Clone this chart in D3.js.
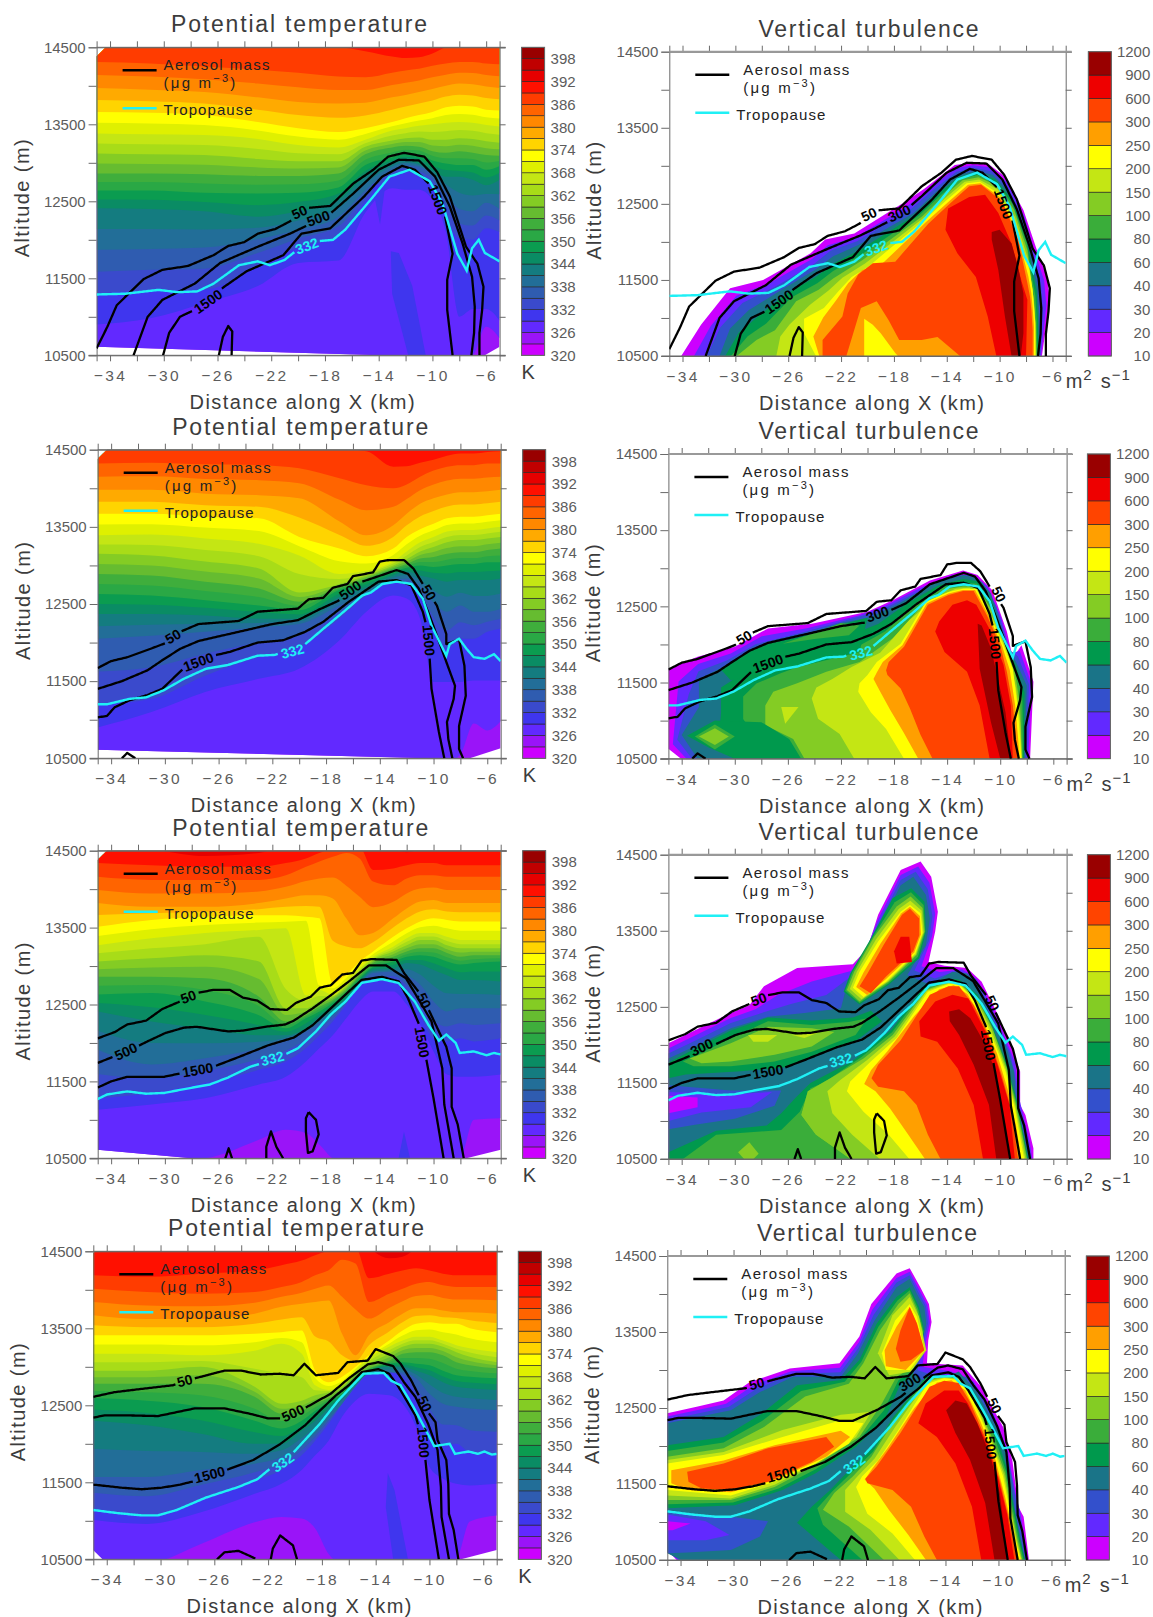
<!DOCTYPE html>
<html><head><meta charset="utf-8">
<script src="https://d3js.org/d3.v7.min.js"></script>
<style>html,body{margin:0;padding:0;background:#fff}svg{display:block}text{font-family:"Liberation Sans",Arial,sans-serif}</style>
</head><body><svg id="c" width="1153" height="1617"></svg>
<script>
// ---------- shared tick data ----------
const xTicks=[-34,-32,-30,-28,-26,-24,-22,-20,-18,-16,-14,-12,-10,-8,-6];
const xLabelled=[-34,-30,-26,-22,-18,-14,-10,-6];
const zTicks=[10500,11000,11500,12000,12500,13000,13500,14000,14500];
const zLabelled=[10500,11500,12500,13500,14500];
const thetaLabels=[320,326,332,338,344,350,356,362,368,374,380,386,392,398];
const turbLabels=[10,20,30,40,60,80,100,150,200,250,300,600,900,1200];
const thetaColors=["#cc00ff","#9a14f8","#6229ff","#3f36ee","#3a4acc","#2f5cb0","#226e98","#147c80","#0a8c64","#0b9c50","#2aa845","#3fae3c","#66bc30","#84cc24","#a8dc18","#c4e614","#dff000","#ffff00","#ffd400","#ffaa00","#ff8800","#ff6400","#ff3c00","#ff1000","#e60000","#c00000","#990000"];
const turbColors=["#cc00ff","#6229ff","#3350cc","#1a7488","#00994d","#3aad3a","#84cc24","#c4e614","#ffff00","#ff9f00","#ff4400","#ee0000","#990000"];

// ---------- potential temperature: altitude (m) of isentropes at each column (km) ----------
const cols16=[-35,-31,-27,-23,-20,-17,-15,-13,-12,-11,-10,-9,-8,-7,-6,-5];
const cols19=[-35,-31,-27,-23,-21,-19.5,-18.5,-17.5,-16.5,-15.5,-14.5,-13,-12,-11,-10,-9,-8,-7,-5];
const theta1={
326:[10450,10450,10450,10450,10450,10450,10450,10450,10450,10450,10450,10450,10450,10500,10870,10720],
329:[10900,10980,11180,11400,11700,11730,12350,12670,12650,12650,12520,12100,11000,11100,11100,10950],
332:[11300,11340,11350,11650,11900,12050,12500,12840,12890,12830,12720,12300,12020,12000,12150,12100],
338:[11870,11880,11900,12010,12130,12300,12640,12920,12970,12950,12840,12620,12400,12370,12480,12400],
344:[12410,12400,12370,12300,12370,12520,12820,12990,13030,12990,12900,12820,12820,12780,12710,12780],
350:[12640,12640,12610,12600,12610,12680,12970,13070,13120,13110,13030,12990,12970,12970,12910,12960],
356:[12860,12860,12850,12830,12830,12860,13110,13200,13220,13210,13150,13130,13150,13130,13100,13090],
362:[13120,13110,13100,13050,13020,13020,13210,13290,13320,13330,13300,13300,13320,13310,13280,13260],
368:[13380,13370,13360,13310,13230,13200,13300,13420,13450,13480,13500,13520,13530,13520,13490,13470],
374:[13660,13650,13620,13530,13450,13400,13450,13530,13580,13620,13660,13720,13740,13730,13690,13680],
380:[13970,13950,13920,13850,13790,13770,13780,13850,13880,13920,13960,14000,14030,14020,13990,13970],
386:[14310,14290,14250,14210,14170,14120,14110,14170,14200,14220,14260,14290,14310,14310,14290,14280],
392:[14790,14800,14800,14820,14850,14880,14790,14590,14520,14520,14580,14710,14750,14780,14780,14780]};
const theta2={
326:[10450,10450,10450,10450,10450,10450,10450,10450,10450,10450,10450,10450,10550,10950,10860,10980],
329:[10900,11100,11360,11530,11660,12030,12400,12610,12570,12310,11490,11490,11490,11510,11510,11510],
332:[11200,11270,11570,11810,11940,12310,12610,12780,12760,12610,12140,11920,12050,12050,12140,12180],
338:[12050,12090,12140,12200,12240,12480,12630,12810,12830,12740,12520,12400,12480,12400,12400,12440],
344:[12370,12370,12350,12310,12310,12590,12720,12870,12920,12870,12830,12790,12810,12810,12810,12830],
350:[12630,12610,12550,12480,12420,12680,12790,12920,12970,13000,12980,13000,13020,13020,13040,13040],
356:[12890,12870,12790,12700,12530,12720,12830,12960,13020,13090,13110,13150,13170,13170,13200,13220],
362:[13150,13130,13050,12960,12650,12760,12870,13000,13080,13180,13240,13300,13330,13330,13350,13370],
368:[13390,13400,13350,13280,13130,12890,12930,13050,13180,13300,13370,13440,13460,13460,13480,13500],
374:[13670,13670,13630,13610,13370,13220,13120,13220,13370,13470,13540,13610,13630,13630,13650,13670],
380:[13980,13980,13930,13910,13870,13570,13390,13520,13670,13800,13870,13920,13950,13950,13960,13980],
386:[14320,14330,14310,14300,14260,14130,14040,14000,14050,14150,14230,14280,14300,14300,14320,14320],
392:[14680,14690,14680,14700,14740,14890,14920,14560,14520,14510,14510,14560,14600,14600,14620,14640]};
const theta3={
326:[10450,10450,10500,10740,10870,10830,10680,10500,10450,10450,10450,10450,10450,10450,10450,10450,10500,11000,11020],
329:[11130,11200,11280,11460,11560,11760,11930,12100,12320,12540,12670,12670,12500,12240,11890,11590,11560,11560,11590],
332:[11280,11350,11480,11650,11760,11930,12100,12280,12500,12760,12810,12810,12620,12360,12060,12020,12060,12020,12060],
338:[11910,11720,11800,11930,12040,12150,12260,12360,12540,12760,12910,12930,12880,12760,12540,12410,12450,12450,12450],
344:[12410,12280,12190,12100,12100,12190,12340,12450,12580,12800,12950,12970,13040,13020,12950,12880,12820,12820,12800],
350:[12630,12650,12540,12360,12190,12320,12410,12520,12650,12840,12990,13060,13120,13140,13120,13060,13020,13040,13060],
356:[12860,12860,12840,12600,12280,12360,12470,12560,12690,12880,13040,13120,13190,13230,13230,13170,13120,13140,13140],
362:[13060,13100,13140,13060,12450,12450,12540,12600,12730,12930,13080,13190,13270,13340,13340,13270,13230,13230,13230],
365:[13165,13230,13285,13380,12700,12550,12610,12610,12765,12950,13100,13220,13315,13385,13385,13325,13285,13285,13285],
368:[13270,13360,13430,13470,13490,12620,12690,12630,12800,12970,13120,13250,13360,13430,13430,13380,13340,13340,13340],
371:[13390,13480,13535,13565,13575,13590,12750,12710,12845,13015,13155,13315,13425,13505,13525,13490,13460,13460,13460],
374:[13510,13600,13640,13660,13660,13640,13620,12780,12890,13060,13190,13380,13490,13580,13620,13600,13580,13580,13580],
380:[13820,13770,13770,13820,13880,13920,13920,13880,13620,13400,13430,13620,13750,13840,13860,13820,13820,13820,13820],
386:[14160,14120,14120,14120,14180,14290,14360,14420,14470,14400,14100,14050,14140,14180,14180,14160,14160,14160,14160],
389:[14340,14310,14290,14290,14340,14400,14470,14530,14570,14550,14250,14270,14310,14340,14340,14310,14310,14310,14310],
392:[14600,14520,14430,14470,14600,14700,14800,14800,14800,14800,14700,14530,14480,14520,14600,14600,14600,14600,14600]};
const theta4={
326:[10450,10450,10700,10980,11050,11030,10900,10570,10450,10450,10450,10450,10450,10450,10450,10450,10500,10990,11070],
329:[11010,10960,11110,11350,11480,11660,11850,12040,12350,12560,12650,12630,12520,12220,11700,11550,11480,11460,11480],
332:[11160,11070,11270,11520,11660,11850,12040,12260,12520,12780,12920,12930,12870,12610,12260,11980,12000,11890,11870],
338:[11570,11570,11660,11740,11830,11980,12130,12330,12520,12740,12910,12930,12930,12850,12650,12520,12480,12460,12440],
344:[12300,12240,12130,12000,12000,12170,12300,12460,12610,12780,12930,13000,13000,12950,12890,12800,12740,12720,12700],
350:[12590,12560,12480,12300,12200,12300,12430,12540,12650,12820,12950,13040,13060,13040,13020,12950,12890,12870,12850],
356:[12780,12780,12780,12610,12390,12430,12520,12590,12700,12870,12980,13080,13170,13190,13190,13150,13060,13020,12980],
362:[12950,12950,13000,12740,12520,12560,12630,12670,12740,12910,13040,13170,13260,13300,13300,13260,13190,13130,13060],
368:[13170,13170,13150,13210,13300,13170,12760,12700,12760,12950,13110,13260,13340,13390,13390,13340,13280,13240,13190],
374:[13410,13410,13410,13430,13450,13470,12950,12800,12870,13000,13150,13340,13470,13560,13580,13560,13560,13500,13450],
380:[13670,13620,13620,13690,13780,13820,13840,13860,13430,13150,13410,13580,13690,13760,13760,13730,13710,13710,13690],
386:[14015,13972,13950,13972,14037,14102,14188,14253,14390,14340,13842,13950,14015,14080,14102,14058,14037,14037,14037],
389:[14190,14170,14210,14250,14320,14380,14450,14510,14600,14560,14150,14210,14250,14280,14250,14210,14190,14190,14190],
392:[14700,14700,14700,14700,14700,14700,14700,14800,14800,14800,14560,14410,14430,14540,14700,14700,14700,14700,14700]};
// data-domain outlines of the interpolated slice (km, m)
const outline1=[-35,14380,-34.3,14500,-5,14500,-5,10610,-6.1,10500,-13.7,10500,-35,10610];
const outline2=[-35,14380,-34.3,14500,-5,14500,-5,10630,-7.3,10500,-10.3,10500,-35,10610];
const outline3=[-35,14380,-34.3,14500,-5,14500,-5,10610,-7.55,10500,-28,10500,-35,10610];
const outline4=[-35,14470,-34.8,14500,-5,14500,-5,10620,-7.65,10500,-34.3,10500,-35,10620];
// closed 329-332 K tongues under the tropopause
const tongues1=[[-13.1,11850,-12.5,11830,-11.5,11400,-10.5,10500,-11.8,10500,-13,11300],[-14.5,12720,-13.9,12200,-13.5,12720]];
const tongues2=[];
const tongues3=[[-12.2,10850,-12.6,10500,-11.75,10500]];
const tongues4=[[-13.1,11620,-12.6,11400,-11.6,10500,-12.7,10500,-13.25,11180]];

// ---------- aerosol contours (50, 500, 1500, then closed blobs) and tropopause (km, m) ----------
const aero1=[
[-35,10590,-34.2,10870,-33.5,11150,-31.5,11490,-30.1,11610,-28.2,11660,-26.3,11800,-25.2,11920,-24,11970,-23,12080,-21.7,12140,-20.6,12240,-19.5,12410,-17.6,12440,-15.9,12730,-14.4,12910,-13.3,13080,-12.1,13130,-10.6,13080,-9.65,12880,-8.7,12560,-7.5,11910,-6.65,11690,-6.2,11390,-6.3,11090,-6.5,10790,-6.5,10500],
[-32.25,10500,-31.2,11000,-30.1,11220,-27.7,11430,-25.8,11700,-23,11910,-20.6,12080,-19.4,12180,-17.6,12340,-15.9,12600,-14,12910,-12.5,13040,-11,13030,-9.8,12820,-8.7,12430,-7.75,11950,-7.05,11520,-6.85,11130,-6.9,10790,-7.1,10500],
[-30.05,10500,-29.6,10790,-28.8,11000,-27.7,11090,-25.5,11390,-23.85,11590,-21.1,11800,-19.75,12080,-17.6,12150,-15.1,12560,-13.75,12820,-12.25,12960,-11.3,12910,-10.05,12690,-9.1,12340,-8.5,11820,-8.9,11480,-8.9,11090,-8.5,10500],
[-25.9,10500,-25.6,10740,-25.2,10880,-24.9,10810,-24.95,10500]];
const trop1=[-35,11290,-32.85,11300,-30.4,11350,-29,11320,-27.5,11330,-26.3,11430,-24.4,11670,-23,11720,-22.1,11670,-21,11740,-20.2,11850,-18.6,11980,-17.4,12000,-16.5,12130,-14.6,12520,-13.2,12820,-11.7,12910,-10.2,12760,-9.25,12470,-8.15,11820,-7.45,11600,-7.05,11890,-6.55,12000,-6.1,11830,-5,11720];
const aero2=[
[-35,11670,-34,11760,-32.8,11810,-30.75,11940,-30,11990,-28.85,12140,-27.5,12240,-24.5,12280,-23.1,12400,-20.1,12440,-19.3,12560,-18.2,12580,-17.5,12710,-16.4,12760,-16,12860,-14.5,12910,-14,13050,-13.3,13070,-12.2,13070,-11.5,12960,-10.8,12760,-9.75,12480,-9.05,12110,-9.05,11980,-8.1,12040,-7.7,11700,-7.6,11310,-8.1,10920,-8.1,10620,-7.8,10500],
[-35,11400,-33.2,11500,-31.3,11640,-30.2,11770,-28.85,11920,-27.5,12020,-24.5,12140,-22,12240,-20.1,12290,-18.5,12430,-17.1,12540,-15.3,12790,-14.1,12860,-12.75,12940,-11.9,12890,-11.1,12700,-10.3,12350,-9.75,12090,-9.05,11750,-8.4,11440,-8.5,11270,-9,10970,-8.9,10750,-8.6,10500],
[-35,11030,-34.3,11050,-33.75,11160,-32.65,11250,-31.3,11320,-30.2,11400,-28.7,11650,-26.4,11830,-25.15,11880,-23.1,12000,-21.2,12030,-19.55,12140,-18.2,12270,-16.3,12530,-14.1,12790,-12.75,12810,-11.65,12740,-10.8,12400,-10.55,12230,-10.3,11830,-10.15,11400,-9.6,10840,-9.2,10500],
[-33.2,10500,-32.8,10570,-32.2,10500]];
const trop2=[-35,11200,-34.3,11200,-32.65,11270,-31.4,11290,-30.1,11380,-28.6,11530,-26.95,11660,-25.3,11710,-23.1,11830,-21.8,11840,-19.55,11980,-18.2,12180,-16.55,12420,-15.3,12610,-14.65,12650,-13.8,12760,-12.75,12790,-11.65,12760,-10.8,12570,-10.15,12220,-9.05,11830,-8.8,11980,-8.1,12050,-7.55,11920,-7,11810,-6.2,11790,-5.5,11850,-5,11760];
const aero3=[
[-35,12060,-33.75,12140,-32.8,12240,-31.4,12290,-30.2,12440,-29,12530,-27.6,12650,-26.4,12690,-25.15,12690,-24.2,12590,-23.1,12550,-22.15,12440,-20.9,12430,-20.25,12520,-19.15,12600,-18.45,12720,-17.65,12750,-16.8,12890,-16,12910,-15.35,13070,-14.65,13090,-12.75,13080,-12.2,12910,-11.4,12730,-11,12640,-10.3,12410,-9.6,12150,-9.05,11950,-8.65,11670,-8.65,11170,-8.2,10940,-7.75,10500],
[-35,11740,-34,11810,-32.1,11950,-31.3,12020,-29.95,12130,-28.55,12200,-27.6,12210,-25.3,12150,-24.2,12160,-22.55,12210,-21.05,12240,-20.4,12290,-19,12450,-17.65,12620,-16.3,12800,-14.8,13010,-13.55,13010,-12.05,12840,-10.85,12490,-10.15,12280,-9.35,11670,-9.2,11200,-8.5,10500],
[-35,11420,-34,11500,-32.8,11560,-30.05,11560,-28.7,11610,-26.4,11690,-24.75,11800,-22.3,11970,-20.4,12070,-19,12230,-17.65,12450,-16.3,12670,-15.35,12820,-13.85,12860,-12.6,12800,-11.9,12580,-11.1,12250,-10.55,11800,-10,11280,-9.25,10500],
[-25.5,10500,-25.25,10630,-25,10500],
[-22.45,10500,-22.45,10650,-22.1,10850,-21.7,10650,-21.2,10500],
[-19.3,11100,-18.75,11000,-18.55,10810,-19,10590,-19.35,10570,-19.5,10850,-19.5,11020,-19.3,11100]];
const trop3=[-35,11270,-34.3,11330,-32.8,11370,-31.4,11340,-30.05,11350,-28.55,11400,-26.65,11460,-25.3,11550,-23.65,11690,-22.9,11730,-21.05,11850,-20.1,11930,-18.75,12150,-17.65,12370,-16.55,12540,-15.35,12780,-13.85,12830,-12.6,12780,-11.4,12540,-10.4,12240,-9.6,12030,-9.05,12110,-8.35,12000,-8.05,11870,-7,11890,-6.05,11840,-5.5,11870,-5,11850];
const aero4=[
[-35,12610,-33.45,12670,-31.55,12710,-29.1,12760,-27.45,12850,-25.25,12950,-24,12950,-22.55,12900,-21.15,12910,-20.1,12890,-19.3,13040,-18.45,12890,-16.8,12920,-16.1,13060,-14.6,13080,-14,13230,-12.7,13140,-12.15,13040,-11.35,12820,-10.8,12630,-10.1,12410,-9.55,12280,-9.4,12050,-8.75,11790,-8.6,11480,-8.55,11090,-8.2,10880,-7.85,10500],
[-35,12340,-34.15,12370,-32.65,12370,-30.2,12360,-27.45,12460,-25.25,12460,-23.35,12390,-22,12330,-21,12330,-19.1,12480,-17.35,12650,-16,12850,-14.6,13030,-13.8,13060,-12.7,13010,-11.9,12800,-11.05,12610,-10.1,12260,-9.4,11920,-9.15,11440,-9.1,11050,-8.55,10500],
[-35,11470,-32.9,11430,-31.4,11410,-29.9,11430,-28.55,11470,-27.6,11510,-25.25,11650,-23.1,11790,-21.15,11990,-19.25,12240,-18.15,12430,-16.95,12630,-16,12760,-15.05,12930,-13.8,12970,-13,12910,-12.3,12740,-11.05,12370,-10.8,12220,-10.3,11790,-10,11270,-9.3,10500],
[-25.8,10500,-25.25,10590,-24.2,10610,-22.95,10510],
[-21.8,10500,-21.65,10640,-21.1,10810,-20.15,10680,-19.85,10500]];
const trop4=[-35,11140,-33.2,11100,-31.4,11070,-30.2,11070,-28.8,11140,-26.65,11300,-24.2,11440,-22.8,11540,-21.9,11670,-20.1,11890,-18.15,12260,-16.8,12560,-14.9,12910,-13.4,12920,-12.85,12820,-12.15,12760,-11.2,12480,-10.4,12220,-9.65,11970,-8.5,12000,-8.1,11870,-7.1,11900,-6.4,11870,-5.9,11900,-5.35,11860,-5,11870];
// contour labels: text, km, m, angle
const labelsTheta1=[["50",-19.9,12360,-25],["500",-18.5,12280,-20],["1500",-26.7,11200,-35],["1500",-9.6,12520,70]];
const labelsTheta2=[["50",-29.4,12080,-30],["500",-16.2,12680,-35],["1500",-27.5,11750,-20],["1500",-10.35,12030,85],["50",-10.35,12650,60]];
const labelsTheta3=[["50",-28.25,12600,-20],["500",-32.9,11890,-25],["1500",-27.55,11650,-10],["1500",-10.85,12010,80],["50",-10.7,12550,65]];
const labelsTheta4=[["50",-28.2,12820,-15],["500",-20.15,12400,-25],["1500",-26.35,11600,-15],["1500",-10.45,12020,85],["50",-10.35,12520,65]];
const labelsTurb1=[["50",-19.9,12360,-25],["300",-17.6,12375,-25],["1500",-26.7,11215,-35],["1500",-9.7,12500,70]];
const labelsTurb2=[["50",-29.3,12090,-30],["300",-19.25,12400,-20],["1500",-27.5,11750,-20],["1500",-10.4,12010,85],["50",-10.1,12660,65]];
const labelsTurb3=[["50",-28.2,12600,-20],["300",-32.5,11970,-25],["1500",-27.5,11650,-10],["1500",-10.9,12000,80],["50",-10.6,12550,65]];
const labelsTurb4=[["50",-28.25,12820,-15],["300",-16.7,12840,-30],["1500",-26.35,11630,-15],["1500",-10.6,12030,85],["50",-10.3,12530,65]];
const tropLabel1=[-19.35,11920,-20], tropLabel2=[-20.5,11890,-15], tropLabel3=[-22,11800,-15], tropLabel4=[-20.9,11760,-35];

// ---------- vertical turbulence: closed level outlines (colour-band index; km, m) ----------
const turb1=[
{l:[0,3,6,8,10],p:[
[-34.1,10500,-32.6,10910,-30.4,11390,-27.9,11500,-24.3,11850,-23.2,12030,-21,12110,-17.3,12510,-15.7,12700,-13.4,13010,-12.1,13040,-10.9,13030,-9.6,12860,-8.2,12420,-7.1,11850,-6.4,11540,-6.2,11240,-6.8,10500],
[-31.2,10500,-30.4,10860,-29,11100,-26.5,11370,-24,11630,-22.6,11810,-20.7,11960,-16.5,12380,-14.8,12660,-13.2,12880,-11.8,12940,-10.5,12880,-9.3,12660,-8,12160,-7.5,11720,-7.1,11410,-7,11020,-7,10500],
[-29.9,10500,-28.4,10710,-27,10840,-25.4,11220,-23.7,11370,-22.6,11520,-20.4,11760,-15.9,12330,-14.3,12590,-12.8,12810,-11.6,12850,-10.1,12730,-8.9,12420,-7.9,11890,-7.6,11460,-7.4,11240,-7.3,10970,-7.2,10500],
[-23.9,10500,-24.8,10800,-24.8,10990,-23.3,11130,-22.2,11350,-21.2,11540,-19.97,11670,-15.7,12290,-14,12550,-12.5,12770,-11.5,12790,-10.1,12640,-8.8,12240,-7.75,11630,-7.5,11370,-7.4,11150,-7.3,10930,-7.3,10500],
[-23.4,10500,-23.4,10710,-21.9,11020,-21.5,11320,-20.7,11570,-19.6,11720,-17.9,11740,-15.4,12240,-13.9,12480,-12.3,12730,-11.4,12750,-9.8,12530,-8.6,12030,-7.9,11460,-7.7,11280,-7.6,11110,-7.5,10840,-7.5,10500]]},
{l:[9],p:[[-21.6,10500,-20.5,11130,-19.3,11220,-18.4,10970,-17.6,10710,-15.9,10710,-14.7,10750,-13,10500]]},
{l:[8],p:[[-20.25,10500,-20.25,10990,-19.6,10910,-19,10800,-17.9,10540,-17.7,10500]]},
{l:[11],p:[[-14.1,12160,-13.9,12440,-12.3,12590,-11.1,12620,-10.1,12380,-9.1,11980,-8.3,11460,-7.9,11240,-8,10500,-10.25,10500,-10.9,11020,-11.8,11540,-13.2,11850]]},
{l:[12],p:[[-10.6,12130,-10,12160,-9.1,11980,-8.6,11670,-8.2,11320,-8.2,10800,-8.4,10500,-9.1,10500,-9.6,11020,-10.1,11630,-10.6,12030]]}];
const turb2=[
{l:[0,3,6,8,10],p:[
[-34.05,10500,-35,10630,-35,11680,-32.8,11840,-30,11970,-27.5,12210,-24.2,12270,-20,12430,-18.1,12580,-15.3,12840,-12.8,12970,-11.7,12910,-10.6,12710,-9.5,12170,-9.05,11820,-8.4,11990,-7.5,11510,-7.75,10500],
[-32.8,10500,-34,10810,-32.7,11180,-32.7,11550,-30.9,11700,-28.9,11900,-25.3,12100,-22,12280,-19.75,12360,-17.8,12520,-15,12800,-12.8,12910,-11.7,12870,-10.7,12670,-9.5,11990,-8.8,11770,-8,11460,-8.15,10500],
[-24.75,10500,-25.6,10760,-27.7,10940,-27.7,11200,-27.1,11380,-25.3,11490,-23.1,11640,-20.6,11770,-18.1,12080,-15.6,12560,-13.9,12730,-12.8,12760,-11.8,12760,-10.7,12470,-9.6,11990,-8.9,11640,-8.5,11200,-8.35,10500],
[-17.25,10500,-18.6,10890,-19.75,11110,-20.7,11380,-20.6,11490,-20,11600,-19.3,11770,-17.5,12010,-15.6,12560,-13.9,12690,-12.8,12730,-11.8,12730,-10.9,12430,-9.75,11990,-9.05,11680,-8.7,11200,-8.5,10760,-8.4,10500],
[-15.1,10500,-16,10810,-16.8,11160,-17.5,11420,-18.5,11600,-18.6,11660,-18.4,11770,-17.25,11970,-15.45,12520,-13.9,12650,-12.8,12700,-12,12700,-11,12380,-10,11990,-9.5,11640,-9.05,11200,-8.8,10760,-8.7,10500]]},
{l:[4],p:[[-33.6,10800,-31.5,11000,-28,10980,-25.9,10760,-25,10500,-30,10500,-32,10650]]},
{l:[4],p:[[-31.1,11680,-28.1,11990,-25,12100,-20.9,12310,-20,12350,-20.6,11900,-25.3,11700,-30.3,11530]]},
{l:[5],p:[[-26.4,12010,-24.5,12120,-22,12280,-20.6,12250,-21.4,12120,-24,12070]]},
{l:[5],p:[[-33,10790,-31.5,10950,-30,10790,-31.5,10620]]},
{l:[6],p:[[-32.7,10790,-31.5,10900,-30.45,10790,-31.5,10680]]},
{l:[7],p:[[-26.5,11180,-25.2,11180,-26.2,10960]]},
{l:[11],p:[[-14.9,12170,-14.6,12300,-13.6,12520,-12.5,12580,-11.8,12520,-10.7,12170,-9.75,11730,-9.2,11200,-9.05,10500,-10.8,10500,-11.55,11200,-12.5,11640,-14.2,11900]]},
{l:[12],p:[[-11.7,12270,-11.4,12250,-10.7,11950,-10.3,11640,-9.6,11110,-9.2,10500,-10,10500,-10.7,10980,-11.55,11680]]}];
const turb3=[
{l:[0,3],p:[
[-35,10500,-35,12020,-32.8,12210,-30.3,12420,-28.9,12520,-27.8,12770,-25.3,13010,-21.1,13060,-20,13270,-19.2,13710,-17.5,14300,-16,14410,-15.2,14210,-14.7,13750,-14.9,13490,-15.4,13090,-14.2,13040,-12.5,13010,-11.4,12830,-10.3,12440,-9.2,12000,-8.5,11650,-8.5,11210,-8.1,11080,-7.5,10640,-7.5,10500],
[-35,10500,-35,11820,-32.8,12000,-30.3,12220,-27.5,12370,-24.75,12420,-22,12480,-21.55,12790,-20.6,13090,-19.2,13530,-17.5,14100,-16.55,14210,-15.6,13970,-15.3,13660,-15.6,13310,-17,12920,-15.3,12790,-13.6,12960,-12.5,12940,-11.7,12770,-10.9,12440,-9.6,12000,-8.95,11650,-8.8,11210,-8.4,10950,-7.75,10500]]},
{l:[2],p:[[-35,11470,-30.3,11400,-26.5,11400,-27,11200,-30,11030,-33,10950,-35,10890]]},
{l:[1],p:[[-35,11380,-30.3,11350,-27.2,11380,-28.8,11180,-32.5,11110,-35,11000]]},
{l:[0],p:[[-35,11330,-32.8,11310,-32.8,11180,-35,11100]]},
{l:[4],p:[[-35,11770,-32.8,11970,-30.3,12190,-27.5,12360,-24.2,12320,-21.1,12360,-19.75,12450,-18.9,12310,-20.9,12050,-24.2,11830,-26.4,11700,-29.8,11650,-33.7,11610,-35,11560]]},
{l:[5],p:[[-33.9,11780,-29.75,12130,-27.5,12310,-24.2,12260,-21.4,12300,-20,12350,-20.9,12130,-24.2,11910,-27,11780,-30.3,11720,-33.1,11720]]},
{l:[6],p:[[-33.4,11820,-30.3,12020,-27.5,12240,-24.2,12220,-22.5,12170,-24.2,11980,-27,11870,-30.3,11780,-32.5,11760]]},
{l:[7],p:[[-29,12130,-26.8,12130,-27.5,12040,-28.6,12040]]},
{l:[7],p:[[-25.7,12130,-23.6,12170,-24.75,12090]]},
{l:[4],p:[[-35,10590,-31.4,10870,-27.6,10940,-26.5,11100,-25.4,11310,-24.3,11500,-22,11710,-19.75,11890,-19.75,10500,-35,10500]]},
{l:[5],p:[[-33.9,10500,-31.4,10820,-26.5,10880,-25.1,11120,-24.3,11430,-22.5,11560,-20.3,11800,-20.3,10500]]},
{l:[6],p:[[-29.75,10590,-28.9,10720,-28.2,10570,-28.6,10500,-29.3,10500]]},
{l:[4,6,8,10],p:[
[-20.6,12530,-21.8,12700,-21.3,12940,-19.75,13400,-18.1,13930,-16.7,14060,-15.7,13880,-15.6,13490,-16.1,13140,-18.4,12790],
[-20.6,12570,-21.55,12720,-21,12960,-19.5,13420,-17.8,13820,-16.75,13950,-15.85,13800,-15.7,13490,-16.3,13180,-18.4,12830],
[-20.3,12630,-21.1,12750,-20.6,12960,-19.2,13360,-17.5,13750,-16.8,13840,-16,13730,-15.85,13470,-16.4,13200,-18.6,12830],
[-19.75,12680,-20.6,12770,-20,12940,-18.8,13310,-17.4,13710,-16.8,13790,-16.1,13660,-16.1,13440,-16.55,13230,-18.6,12900]]},
{l:[11],p:[[-17.5,13420,-16.85,13420,-16.65,13090,-17.8,13070,-18,13230]]},
{l:[4,6,8,10],p:[
[-21.3,10500,-23.9,10820,-25,11080,-24.5,11390,-22.8,11560,-20.6,11860,-18.2,12200,-15.7,12770,-13.9,12870,-13.1,12860,-11.7,12660,-10.7,12290,-9.5,11750,-8.7,11240,-8.15,10720,-7.9,10500],
[-21.3,10500,-23.9,10820,-25,11080,-24.5,11390,-22.8,11560,-20.3,11820,-18.1,12130,-15.6,12720,-13.9,12830,-13.1,12820,-11.7,12590,-10.6,12220,-9.5,11690,-8.8,11210,-8.2,10690,-8,10500],
[-16.85,10500,-18.4,10820,-20.3,11120,-21.55,11390,-21.3,11520,-19.75,11780,-17.8,12090,-15.45,12700,-13.9,12800,-13.1,12800,-11.85,12570,-10.75,12170,-9.6,11650,-8.9,11170,-8.4,10690,-8.2,10500],
[-14.5,10500,-15.45,10820,-16.3,11210,-17.25,11390,-19.2,11450,-19.7,11560,-19.2,11740,-17.5,12060,-15.3,12660,-13.9,12770,-13.1,12770,-12,12520,-10.9,12130,-9.9,11610,-9.2,11170,-8.65,10500]]},
{l:[11],p:[[-16.1,12310,-14.9,12570,-13.6,12660,-12.4,12610,-11.1,12170,-10.2,11740,-9.3,11210,-8.9,10500,-11.3,10500,-12,11210,-13.2,11690,-14.75,12040,-16,12110]]},
{l:[12],p:[[-13.85,12440,-13.1,12470,-12.25,12350,-11.1,12000,-10.45,11690,-9.9,11210,-9.25,10500,-10.3,10500,-10.85,11210,-12,11740,-13.1,12130,-13.8,12310]]}];
const turb4=[
{l:[0,3],p:[
[-34.3,10500,-35,10630,-35,12430,-32.7,12520,-30.75,12600,-28.8,12840,-25.75,13020,-22,13090,-20.5,13440,-19.6,13870,-17.7,14270,-16.7,14340,-15.9,14090,-15.25,13870,-15.05,13630,-15.3,13390,-15.4,13090,-12.7,13060,-11.3,12780,-9.65,12250,-8.95,11810,-8.5,11200,-8.1,11070,-7.7,10500],
[-33.95,10500,-35,10590,-35,12300,-32.7,12380,-30.2,12470,-28,12710,-25.5,12910,-21.9,12910,-20.6,13220,-19.35,13650,-17.7,14090,-16.7,14200,-16.15,14000,-15.6,13830,-15.45,13610,-15.75,13390,-16.45,12950,-15.2,12820,-13,12980,-11.7,12730,-10.05,12210,-9.2,11770,-8.8,11200,-8,10500]]},
{l:[2],p:[[-35,11120,-30.2,11070,-27.4,11010,-28,10810,-30.2,10630,-33.5,10600,-35,10590]]},
{l:[1],p:[[-35,11100,-32.1,11010,-30.3,10830,-32.1,10760,-35,10760]]},
{l:[0],p:[[-35,11010,-33.25,10980,-34.6,10890,-35,10890]]},
{l:[4,6],p:[
[-35,12010,-30.75,12120,-28,12410,-25.2,12800,-21.9,12870,-20.5,13130,-19.2,13610,-17.7,13960,-16.7,14090,-16,13830,-15.6,13520,-15.9,13310,-16.45,12950,-17.4,12820,-18.5,12380,-20.75,11990,-23.8,11640,-26.3,11420,-29.9,11220,-35,11180],
[-35,11860,-30.75,11970,-27.7,12250,-24.6,12650,-21.3,12820,-20.2,13090,-18.95,13520,-17.55,13870,-16.7,14010,-16.15,13790,-15.7,13500,-16,13280,-16.6,13020,-17.7,12910,-18.8,12560,-20.5,12120,-23.8,11750,-26.9,11460,-30.2,11290,-35,11290]]},
{l:[7],p:[[-35,11815,-30.75,11920,-26.3,12210,-21.9,12410,-19.6,12450,-20.75,12120,-23.8,11770,-26.9,11490,-30.2,11310,-35,11350]]},
{l:[8],p:[[-35,11770,-30.75,11880,-26.3,12120,-21.9,12340,-20.2,12300,-21.3,12030,-23.8,11770,-26.9,11530,-30.2,11350,-35,11420]]},
{l:[9],p:[[-34.7,11680,-30.75,11810,-26.9,12010,-21.9,12200,-21.2,12120,-23,11860,-26.9,11550,-30.2,11390,-33.5,11420,-34.7,11510]]},
{l:[10],p:[[-33.5,11660,-30.75,11770,-27.4,11970,-23,12120,-22.4,11990,-24.1,11790,-27.4,11530,-30.2,11420,-32.4,11440,-33.4,11530]]},
{l:[7],p:[[-18.25,12930,-19.1,13220,-18,13720,-16.7,13960,-16,13700,-15.45,13260,-16.6,12980]]},
{l:[8],p:[[-18.5,13000,-18.8,13220,-17.8,13650,-16.7,13870,-16.15,13700,-15.6,13260,-16.7,13000]]},
{l:[9],p:[[-18.5,13050,-18.6,13260,-17.7,13570,-16.7,13830,-16.15,13610,-15.6,13260,-17,13000]]},
{l:[10],p:[[-17.4,13110,-17.75,13280,-17.4,13520,-16.7,13830,-16.15,13610,-15.6,13260,-16.6,13130]]},
{l:[4,6,8,10],p:[
[-21.9,10500,-25.2,10990,-24.1,11200,-22.7,11420,-21,11730,-19.35,11990,-17.95,12380,-15.45,12910,-14.05,12930,-13,12910,-11.7,12670,-10.2,12170,-9.35,11690,-8.8,11160,-8.35,10760,-8,10500],
[-18.65,10500,-21.3,10940,-23.25,11160,-22.4,11380,-21,11600,-19.6,11860,-18,12300,-15.45,12870,-14.1,12910,-13,12890,-11.85,12650,-10.5,12120,-9.5,11640,-9,11160,-8.55,10760,-8.2,10500],
[-16.3,10500,-18,10850,-19.9,11110,-20.75,11460,-20.3,11600,-19.1,11810,-17.55,12210,-15.35,12820,-14.1,12890,-13,12870,-12,12630,-10.6,12080,-9.65,11600,-9.1,11110,-8.7,10760,-8.3,10500],
[-14.65,10500,-15.6,10810,-16.6,11200,-18,11420,-19.9,11510,-20.05,11570,-19.2,11730,-17.4,12170,-15.2,12780,-14.1,12860,-13,12830,-12.15,12580,-10.8,12030,-9.9,11550,-9.3,11110,-8.6,10500]]},
{l:[11],p:[[-16.05,12300,-15.5,12560,-14.1,12730,-13,12730,-12.3,12560,-11,12080,-10.05,11600,-9.35,11110,-8.8,10500,-11.3,10500,-12,11200,-13.25,11770,-14.65,12120]]},
{l:[12],p:[[-13.95,12470,-13.25,12600,-12.4,12560,-11.6,12300,-10.6,11860,-9.9,11380,-9.3,10500,-10.3,10500,-11,11250,-12.15,11820,-13.25,12170]]}];

// ---------- page layout ----------
const thetaPanels=[
 {box:[96.6,499.6,47.3,355.3],cols:cols16,rows:theta1,out:outline1,tong:tongues1,aero:aero1,trop:trop1,lab:labelsTheta1,tl:tropLabel1},
 {box:[97.7,500.7,449.7,758.3],cols:cols16,rows:theta2,out:outline2,tong:tongues2,aero:aero2,trop:trop2,lab:labelsTheta2,tl:tropLabel2},
 {box:[97.7,500.7,850.7,1158.3],cols:cols19,rows:theta3,out:outline3,tong:tongues3,aero:aero3,trop:trop3,lab:labelsTheta3,tl:tropLabel3},
 {box:[93.3,496.7,1251.3,1559.3],cols:cols19,rows:theta4,out:outline4,tong:tongues4,aero:aero4,trop:trop4,lab:labelsTheta4,tl:tropLabel4}];
const turbPanels=[
 {box:[669.3,1065.7,51.7,356],draw:turb1,aero:aero1,trop:trop1,lab:labelsTurb1,tl:tropLabel1},
 {box:[668.4,1066.6,454,758.7],draw:turb2,aero:aero2,trop:trop2,lab:labelsTurb2,tl:tropLabel2},
 {box:[668.4,1066.6,854.7,1159],draw:turb3,aero:aero3,trop:trop3,lab:labelsTurb3,tl:tropLabel3},
 {box:[667.3,1064.7,1256,1560],draw:turb4,aero:aero4,trop:trop4,lab:labelsTurb4,tl:tropLabel4}];

const svg=d3.select("#c");
const grey="#5c5c5c", frame="#6a6a6a";
const pairs=f=>{const o=[];for(let i=0;i<f.length;i+=2)o.push([f[i],f[i+1]]);return o;};
let uid=0;

function frameAxes(g,x,y,w,h,thickTop){
  const fmtX=d=>xLabelled.includes(d)?String(d).replace("-","\u2212"):"";
  const fmtZ=d=>zLabelled.includes(d)?d:"";
  const b=g.append("g").attr("transform",`translate(0,${h})`).call(d3.axisBottom(x).tickValues(xTicks).tickSize(6).tickPadding(9).tickFormat(fmtX));
  const t=g.append("g").call(d3.axisTop(x).tickValues(xTicks).tickSize(6).tickFormat(""));
  const l=g.append("g").call(d3.axisLeft(y).tickValues(zTicks).tickSize(8).tickPadding(3).tickFormat(fmtZ));
  const r=g.append("g").attr("transform",`translate(${w},0)`).call(d3.axisRight(y).tickValues(zTicks).tickSize(6).tickFormat(""));
  [b,t,l,r].forEach(a=>{a.selectAll(".tick line").attr("stroke",frame);a.select(".domain").attr("stroke",frame).attr("stroke-width",1);
    a.selectAll("text").attr("fill",grey).attr("font-size",15).attr("font-family","Liberation Sans");});
  b.selectAll("text").attr("letter-spacing",2.4).attr("font-size",15.5);
  g.append("line").attr("x1",-8).attr("x2",w+6).attr("y1",h).attr("y2",h).attr("stroke",frame);
  g.append("line").attr("x1",0).attr("x2",w+6).attr("y1",0).attr("y2",0).attr("stroke",thickTop?"#999":frame).attr("stroke-width",thickTop?2:1);
}
// polyline in pixels, broken where a contour label of that line sits
function gappedPath(pts,x,y,labs){
  const boxes=labs.map(L=>({cx:x(L[1]),cy:y(L[2]),a:L[3]*Math.PI/180,rw:String(L[0]).length*3.9+2}));
  const inside=(px,py)=>boxes.some(b=>{const dx=px-b.cx,dy=py-b.cy;
    return Math.abs(dx*Math.cos(b.a)+dy*Math.sin(b.a))<b.rw&&Math.abs(-dx*Math.sin(b.a)+dy*Math.cos(b.a))<7;});
  const out=[];
  pts.forEach((p,i)=>{
    if(i===pts.length-1){out.push([x(p[0]),y(p[1])]);return;}
    const q=pts[i+1],x0=x(p[0]),y0=y(p[1]),x1=x(q[0]),y1=y(q[1]);
    const n=Math.max(1,Math.ceil(Math.hypot(x1-x0,y1-y0)/1.5));
    for(let k=0;k<n;k++){const sx=x0+(x1-x0)*k/n,sy=y0+(y1-y0)*k/n;out.push(inside(sx,sy)?null:[sx,sy]);}
  });
  return d3.line().defined(d=>d!==null).x(d=>d[0]).y(d=>d[1])(out);
}
function overlay(g,x,y,P,clip){
  const o=g.append("g").attr("clip-path",`url(#${clip})`);
  const which=t=>t==="50"?0:t==="1500"?2:1;
  P.aero.forEach((a,i)=>o.append("path").attr("d",gappedPath(pairs(a),x,y,P.lab.filter(L=>which(L[0])===i))).attr("fill","none").attr("stroke","#000").attr("stroke-width",2.3).attr("stroke-linejoin","round"));
  o.append("path").attr("d",gappedPath(pairs(P.trop),x,y,[["332",P.tl[0],P.tl[1],P.tl[2]]])).attr("fill","none").attr("stroke","#1ff0f5").attr("stroke-width",2.4);
  P.lab.forEach(L=>o.append("text").text(L[0]).attr("transform",`translate(${x(L[1])},${y(L[2])}) rotate(${L[3]})`).attr("text-anchor","middle").attr("dy","0.36em").attr("font-size",14).attr("font-weight","bold").attr("fill","#000"));
  o.append("text").text("332").attr("transform",`translate(${x(P.tl[0])},${y(P.tl[1])}) rotate(${P.tl[2]})`).attr("text-anchor","middle").attr("dy","0.36em").attr("font-size",14).attr("font-weight","bold").attr("fill","#1ff0f5");
}
function legend(g,dx1){
  const t=(s,x,y,len)=>g.append("text").attr("x",x).attr("y",y).attr("font-size",15).attr("fill","#222").attr("textLength",len).attr("lengthAdjust","spacing").text(s);
  g.append("line").attr("x1",26).attr("x2",60).attr("y1",23).attr("y2",23).attr("stroke","#000").attr("stroke-width",2.4);
  g.append("line").attr("x1",26).attr("x2",60).attr("y1",61).attr("y2",61).attr("stroke","#1ff0f5").attr("stroke-width",2.4);
  t("Aerosol mass",dx1,23,106);
  const u=g.append("text").attr("x",dx1).attr("y",41).attr("font-size",15).attr("fill","#222").attr("letter-spacing",2.2);
  u.append("tspan").text("(\u03bcg m");
  u.append("tspan").attr("dy",-6).attr("font-size",11).text("\u22123");
  u.append("tspan").attr("dy",6).text(")");
  t("Tropopause",67,68,89);
}
function titles(g,w,h,title,tw){
  g.append("text").attr("x",w/2+1).attr("y",-15).attr("text-anchor","middle").attr("font-size",23).attr("fill","#3c3c3c").attr("textLength",tw).attr("lengthAdjust","spacing").text(title);
  g.append("text").attr("x",w/2+4).attr("y",h+54).attr("text-anchor","middle").attr("font-size",20).attr("fill","#3c3c3c").attr("textLength",225).attr("lengthAdjust","spacing").text("Distance along X (km)");
  g.append("text").attr("transform",`translate(-68,${h/2-3}) rotate(-90)`).attr("text-anchor","middle").attr("font-size",20).attr("fill","#3c3c3c").attr("textLength",118).attr("lengthAdjust","spacing").text("Altitude (m)");
}

// ---------- theta panels ----------
const thetaEdges=d3.range(320,402,3);
thetaPanels.forEach(P=>{
  const [L,R,T,B]=P.box,w=R-L,h=B-T;
  const g=svg.append("g").attr("transform",`translate(${L},${T})`);
  const x=d3.scaleLinear().domain([-35,-5]).range([0,w]);
  const y=d3.scaleLinear().domain([10500,14500]).range([h,0]);
  const clip="cl"+(uid++),plot="pl"+(uid++);
  const poly=f=>pairs(f).map(d=>[x(d[0]),y(d[1])]).join("L");
  g.append("clipPath").attr("id",clip).append("path").attr("d","M"+poly(P.out)+"Z");
  g.append("clipPath").attr("id",plot).append("rect").attr("width",w).attr("height",h);
  const f=g.append("g").attr("clip-path",`url(#${clip})`);
  f.append("rect").attr("width",w).attr("height",h).attr("fill",thetaColors[1]);
  const known=Object.keys(P.rows).map(Number).sort((a,b)=>a-b);
  const area=d3.area().curve(d3.curveMonotoneX).x((d,i)=>x(P.cols[i])).y0(0).y1(d=>y(d));
  thetaEdges.slice(0,-1).forEach((lev,bi)=>{
    if(lev<326) return;
    let row=P.rows[lev];
    if(!row){
      const lo=known.filter(k=>k<lev).pop(),hi=known.find(k=>k>lev);
      if(hi===undefined) return;
      const t=(lev-lo)/(hi-lo);
      row=P.rows[lo].map((v,i)=>v+(P.rows[hi][i]-v)*t);
    }
    f.append("path").attr("d",area(row)).attr("fill",thetaColors[bi]);
  });
  P.tong.forEach(tg=>f.append("path").attr("d","M"+poly(tg)+"Z").attr("fill",thetaColors[3]));
  frameAxes(g,x,y,w,h,false);
  overlay(g,x,y,P,plot);
  legend(g,67);
  titles(g,w,h,"Potential temperature",256);
  const sc=d3.scaleLinear().domain([320,401]).range([h,0]);
  thetaColors.forEach((c,i)=>g.append("rect").attr("x",425).attr("y",sc(thetaEdges[i+1])).attr("width",23).attr("height",sc(thetaEdges[i])-sc(thetaEdges[i+1])).attr("fill",c).attr("stroke","#222").attr("stroke-width",0.6));
  g.append("rect").attr("x",425).attr("width",23).attr("height",h).attr("fill","none").attr("stroke",frame);
  thetaLabels.forEach(v=>g.append("text").attr("x",454).attr("y",sc(v)).attr("dy","0.36em").attr("font-size",15).attr("fill",grey).text(v));
  g.append("text").attr("x",425).attr("y",h+24).attr("font-size",20).attr("fill","#3c3c3c").text("K");
});

// ---------- turbulence panels ----------
turbPanels.forEach(P=>{
  const [L,R,T,B]=P.box,w=R-L,h=B-T;
  const g=svg.append("g").attr("transform",`translate(${L},${T})`);
  const x=d3.scaleLinear().domain([-35,-5]).range([0,w]);
  const y=d3.scaleLinear().domain([10500,14500]).range([h,0]);
  const plot="pl"+(uid++);
  g.append("clipPath").attr("id",plot).append("rect").attr("width",w).attr("height",h);
  const f=g.append("g").attr("clip-path",`url(#${plot})`);
  const ring=a=>"M"+pairs(a).map(d=>[x(d[0]),y(d[1])]).join("L")+"Z";
  P.draw.forEach(e=>{
    for(let i=0;i<e.l.length-1;i++){
      const a=e.p[i],b=e.p[i+1];
      for(let lv=e.l[i];lv<e.l[i+1];lv++){
        const t=(lv-e.l[i])/(e.l[i+1]-e.l[i]);
        f.append("path").attr("d",ring(a.map((v,k)=>v+(b[k]-v)*t))).attr("fill",turbColors[lv]);
      }
    }
    f.append("path").attr("d",ring(e.p[e.p.length-1])).attr("fill",turbColors[e.l[e.l.length-1]]);
  });
  frameAxes(g,x,y,w,h,true);
  overlay(g,x,y,P,plot);
  legend(g,74);
  titles(g,w,h,"Vertical turbulence",220);
  const sc=d3.scaleLinear().domain([0,13]).range([h,0]);
  turbColors.forEach((c,i)=>g.append("rect").attr("x",419).attr("y",sc(i+1)).attr("width",23).attr("height",sc(i)-sc(i+1)).attr("fill",c).attr("stroke","#222").attr("stroke-width",0.6));
  g.append("rect").attr("x",419).attr("width",23).attr("height",h).attr("fill","none").attr("stroke",frame);
  turbLabels.forEach((v,i)=>g.append("text").attr("x",481).attr("y",sc(i)).attr("dy","0.36em").attr("text-anchor","end").attr("font-size",15).attr("fill",grey).text(v));
  const u=g.append("text").attr("x",w).attr("y",h+32).attr("font-size",20).attr("fill","#3c3c3c").attr("letter-spacing",1);
  u.append("tspan").text("m");
  u.append("tspan").attr("dy",-8).attr("font-size",15).text("2");
  u.append("tspan").attr("dy",8).attr("dx",8).text("s");
  u.append("tspan").attr("dy",-8).attr("font-size",15).text("\u22121");
});
</script></body></html>
